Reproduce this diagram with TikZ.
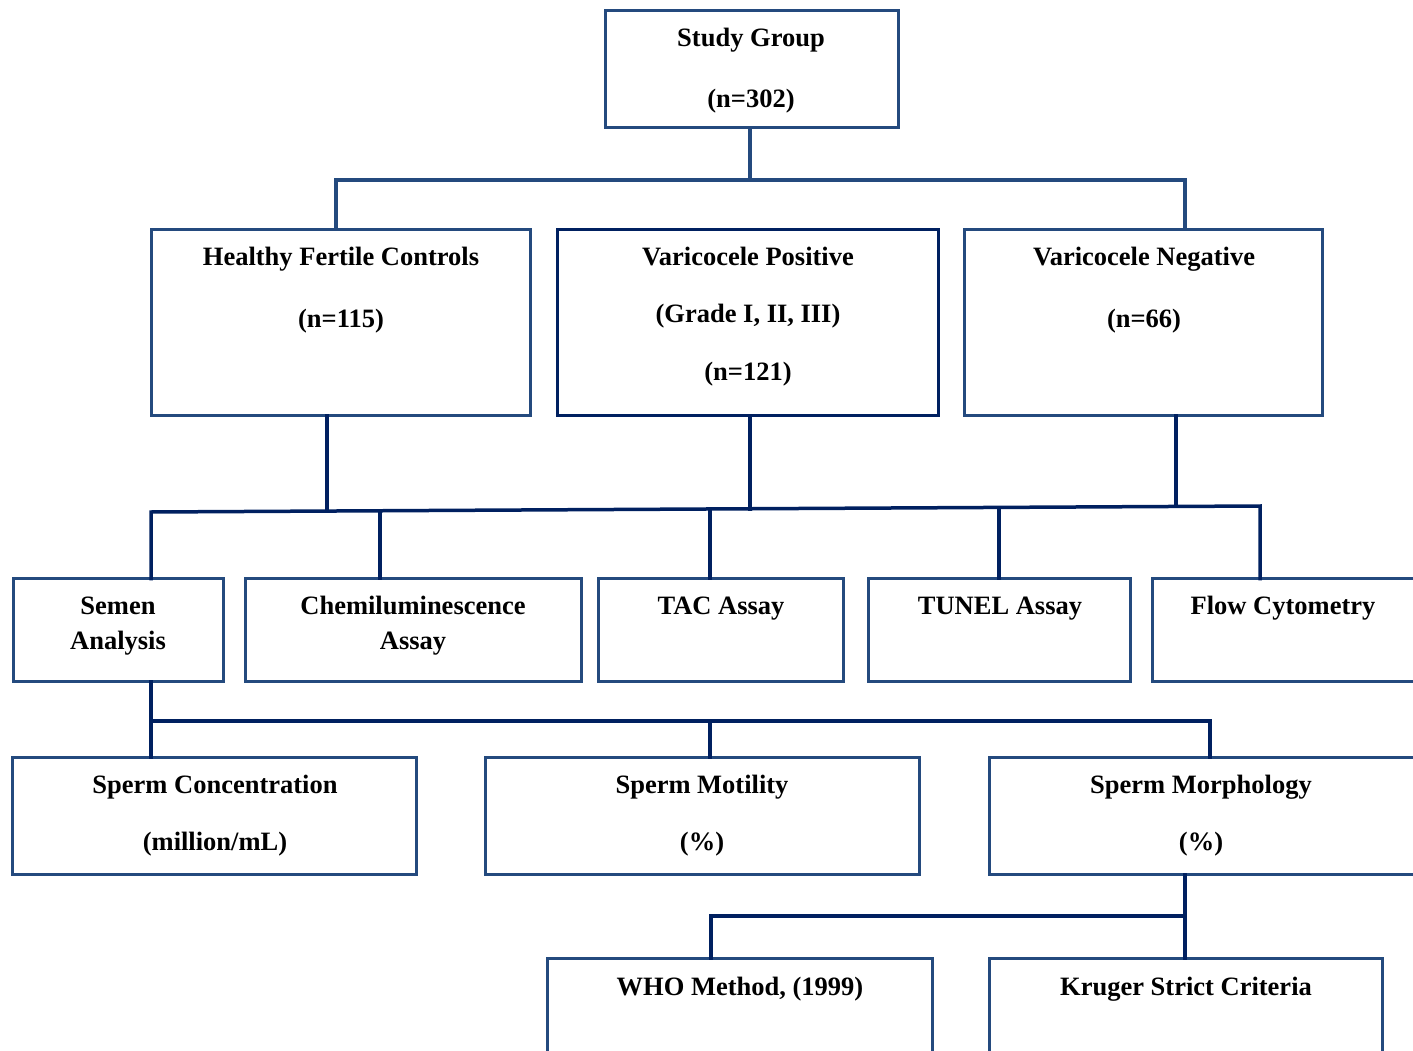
\documentclass[tikz,border=0pt]{standalone}
\usepackage{fontspec}
\setmainfont{Liberation Serif}
\definecolor{boxblue}{RGB}{36,74,126}
\definecolor{navy}{RGB}{0,32,96}
\tikzset{
  box/.style={draw=boxblue, line width=3.5pt, inner sep=0pt, outer sep=0pt, anchor=north west},
  boxdark/.style={box, draw=navy, line width=3.8pt},
  conn/.style={draw=navy, line width=3.5pt, line cap=rect},
  connlight/.style={draw=boxblue, line width=3.5pt, line cap=rect},
  txt/.style={font=\fontsize{26.5}{30}\selectfont\bfseries, anchor=base, inner sep=0pt, text=black}
}
\newcommand{\mybox}[6][box]{%
  \pgfmathsetmacro{\bw}{#5-#3}\pgfmathsetmacro{\bh}{#6-#4}%
  \node[#1, minimum width=\bw pt, minimum height=\bh pt] (#2) at (#3,#4) {};}
\begin{document}
\begin{tikzpicture}[x=1pt,y=-1pt]
\useasboundingbox (0,0) rectangle (1413,1051);
\clip (0,0) rectangle (1413,1051);
% boxes
\mybox{sg}{605.5}{10.5}{898.5}{127.5}
\mybox{hfc}{151.5}{229.5}{530.5}{415.5}
\mybox[boxdark]{vp}{557.5}{229.5}{938.5}{415.5}
\mybox{vn}{964.5}{229.5}{1322.5}{415.5}
\mybox{sa}{13.5}{578.5}{223.5}{681.5}
\mybox{ca}{245.5}{578.5}{581.5}{681.5}
\mybox{tac}{598.5}{578.5}{843.5}{681.5}
\mybox{tun}{868.5}{578.5}{1130.5}{681.5}
\mybox{fc}{1152.5}{578.5}{1440}{681.5}
\mybox{sc}{12.5}{757.5}{416.5}{874.5}
\mybox{sm}{485.5}{757.5}{919.5}{874.5}
\mybox{smo}{989.5}{757.5}{1440}{874.5}
\mybox{who}{547.5}{958.5}{932.5}{1080}
\mybox{kr}{989.5}{958.5}{1382.5}{1080}
% texts
\node[txt] (sgt1) at (751,47) {Study Group};
\node[txt] (sgt2) at (751,108) {(n=302)};
\node[txt] (hft1) at (341,265) {Healthy Fertile Controls};
\node[txt] (hft2) at (341,327) {(n=115)};
\node[txt] (vpt1) at (748,265) {Varicocele Positive};
\node[txt] (vpt2) at (748,322) {(Grade I, II, III)};
\node[txt] (vpt3) at (748,380) {(n=121)};
\node[txt] (vnt1) at (1144,265) {Varicocele Negative};
\node[txt] (vnt2) at (1144,327) {(n=66)};
\node[txt] (sat1) at (118,614) {Semen};
\node[txt] (sat2) at (118,649) {Analysis};
\node[txt] (cat1) at (413,614) {Chemiluminescence};
\node[txt] (cat2) at (413,649) {Assay};
\node[txt] (tact) at (721,614) {TAC Assay};
\node[txt] (tunt) at (1000,614) {TUNEL Assay};
\node[txt] (fct) at (1283,614) {Flow Cytometry};
\node[txt] (sct1) at (215,793) {Sperm Concentration};
\node[txt] (sct2) at (215,850) {(million/mL)};
\node[txt] (smt1) at (702,793) {Sperm Motility};
\node[txt] (smt2) at (702,850) {(\%)};
\node[txt] (smot1) at (1201,793) {Sperm Morphology};
\node[txt] (smot2) at (1201,850) {(\%)};
\node[txt] (whot) at (740,995) {WHO Method, (1999)};
\node[txt] (krt) at (1186,995) {Kruger Strict Criteria};
% connector junctions
\coordinate (t0) at (750,180);
\coordinate (t1) at (336,180);
\coordinate (t2) at (1185,180);
\coordinate (mL) at (151,512);
\coordinate (mR) at (1260,506);
\coordinate (m1) at (327,511);
\coordinate (m2) at (750,508.8);
\coordinate (m3) at (1176,506.5);
\coordinate (d2) at (380,510.8);
\coordinate (d3) at (710,509);
\coordinate (d4) at (999,507.4);
\coordinate (l0) at (151,721);
\coordinate (l1) at (710,721);
\coordinate (l2) at (1210,721);
\coordinate (b0) at (1185,916);
\coordinate (b1) at (711,916);
% top level
\draw[connlight] (sg.south -| t0) -- (t0);
\draw[connlight] (hfc.north -| t1) -- (t1) -- (t2) -- (vn.north -| t2);
% middle level
\draw[conn] (hfc.south -| m1) -- (m1);
\draw[conn] (vp.south -| m2) -- (m2);
\draw[conn] (vn.south -| m3) -- (m3);
\draw[conn] (sa.north -| mL) -- (mL) -- (mR) -- (fc.north -| mR);
\draw[conn] (d2) -- (ca.north -| d2);
\draw[conn] (d3) -- (tac.north -| d3);
\draw[conn] (d4) -- (tun.north -| d4);
% lower level
\draw[conn] (sa.south -| l0) -- (l0) -- (l2) -- (smo.north -| l2);
\draw[conn] (l0) -- (sc.north -| l0);
\draw[conn] (l1) -- (sm.north -| l1);
% bottom level
\draw[conn] (smo.south -| b0) -- (kr.north -| b0);
\draw[conn] (b0) -- (b1) -- (who.north -| b1);
\end{tikzpicture}
\end{document}
